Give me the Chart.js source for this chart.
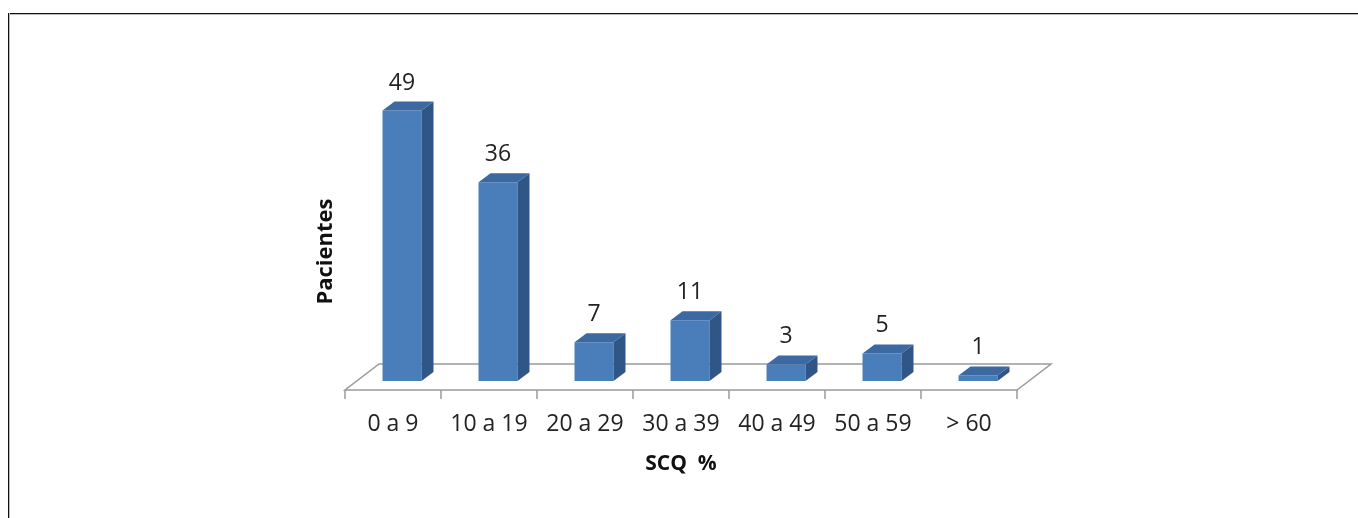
<!DOCTYPE html>
<html>
<head>
<meta charset="utf-8">
<script src="https://cdn.jsdelivr.net/npm/chart.js@4"></script>
<style>
  body { margin: 0; background: #fff; }
  #wrap { position: relative; width: 1358px; height: 518px; }
  .frameTop { position: absolute; left: 8px; top: 13px; right: 0; height: 1px; background: #111; border-bottom: 1px solid #bbb; }
  .frameLeft { position: absolute; left: 8px; top: 13px; bottom: 0; width: 1px; background: #111; border-right: 1px solid #bbb; }
  canvas { position: absolute; left: 0; top: 0; }
</style>
</head>
<body>
<div id="wrap">
  <div class="frameTop"></div>
  <div class="frameLeft"></div>
  <canvas id="chart" width="1358" height="518"></canvas>
</div>
<script>
var categories = ["0 a 9", "10 a 19", "20 a 29", "30 a 39", "40 a 49", "50 a 59", "> 60"];
var pacientes = [49, 36, 7, 11, 3, 5, 1];

var SHIFT = 9;      // bars sit a little behind the front edge of the floor
var DX = 12, DY = -9; // bar depth
var FLOOR_DX = 34, FLOOR_DY = -26, FLOOR_FRONT = 9;

var front = "#4A7EBB";
var side = "#2F5686";
var top3d = "#3C69A2";

var threeD = {
  id: "threeD",
  beforeDatasetsDraw: function(chart) {
    var ctx = chart.ctx;
    var a = chart.chartArea;
    var fy = a.bottom + FLOOR_FRONT;
    ctx.save();
    ctx.strokeStyle = "#9a9a9a";
    ctx.lineWidth = 1.5;
    ctx.beginPath();
    ctx.moveTo(a.left, fy);
    ctx.lineTo(a.right, fy);
    ctx.lineTo(a.right + FLOOR_DX, fy + FLOOR_DY);
    ctx.lineTo(a.left + FLOOR_DX, fy + FLOOR_DY);
    ctx.closePath();
    ctx.stroke();
    // tick marks on the front edge
    var n = categories.length;
    var step = (a.right - a.left) / n;
    ctx.beginPath();
    for (var i = 0; i <= n; i++) {
      ctx.moveTo(a.left + i * step, fy);
      ctx.lineTo(a.left + i * step, fy + 9);
    }
    ctx.stroke();
    ctx.restore();
    ctx.save();
    ctx.translate(SHIFT, 0);
  },
  afterDatasetsDraw: function(chart) {
    var ctx = chart.ctx;
    ctx.restore();
    var meta = chart.getDatasetMeta(0);
    ctx.save();
    meta.data.forEach(function(bar, i) {
      var p = bar.getProps(["x", "y", "base", "width"], true);
      var l = p.x - p.width / 2 + SHIFT, r = p.x + p.width / 2 + SHIFT;
      // side
      ctx.fillStyle = side;
      ctx.beginPath();
      ctx.moveTo(r, p.y);
      ctx.lineTo(r + DX, p.y + DY);
      ctx.lineTo(r + DX, p.base + DY);
      ctx.lineTo(r, p.base);
      ctx.closePath();
      ctx.fill();
      // top
      ctx.fillStyle = top3d;
      ctx.beginPath();
      ctx.moveTo(l, p.y);
      ctx.lineTo(r, p.y);
      ctx.lineTo(r + DX, p.y + DY);
      ctx.lineTo(l + DX, p.y + DY);
      ctx.closePath();
      ctx.fill();
      // value label
      ctx.fillStyle = "#222";
      ctx.font = "23px 'Open Sans'";
      ctx.textAlign = "center";
      ctx.textBaseline = "alphabetic";
      ctx.fillText(String(pacientes[i]), (l + r) / 2, p.y - 21);
    });
    ctx.restore();
  }
};

new Chart(document.getElementById("chart"), {
  type: "bar",
  data: {
    labels: categories,
    datasets: [{
      data: pacientes,
      backgroundColor: front,
      borderWidth: 0,
      categoryPercentage: 1,
      barPercentage: 0.406
    }]
  },
  options: {
    responsive: false,
    animation: false,
    layout: { padding: { left: 309, right: 341, top: 105, bottom: 36 } },
    plugins: { legend: { display: false }, tooltip: { enabled: false } },
    scales: {
      x: {
        grid: { display: false },
        border: { display: false },
        afterFit: function(scale) { scale.height = 101; },
        ticks: { padding: 22, maxRotation: 0, color: "#222", font: { family: "Open Sans", size: 23 } },
        title: {
          display: true,
          text: "SCQ  %",
          color: "#111",
          font: { family: "Open Sans", size: 21, weight: "bold" },
          padding: { top: 19, bottom: 5 }
        }
      },
      y: {
        min: 0,
        max: 50,
        afterFit: function(scale) { scale.width = 36; },
        grid: { display: false },
        border: { display: false },
        ticks: { display: false },
        title: {
          display: true,
          text: "Pacientes   ",
          color: "#111",
          font: { family: "Open Sans", size: 22, weight: "bold" },
          padding: { top: 4, bottom: 8 }
        }
      }
    }
  },
  plugins: [threeD]
});
</script>
</body>
</html>
